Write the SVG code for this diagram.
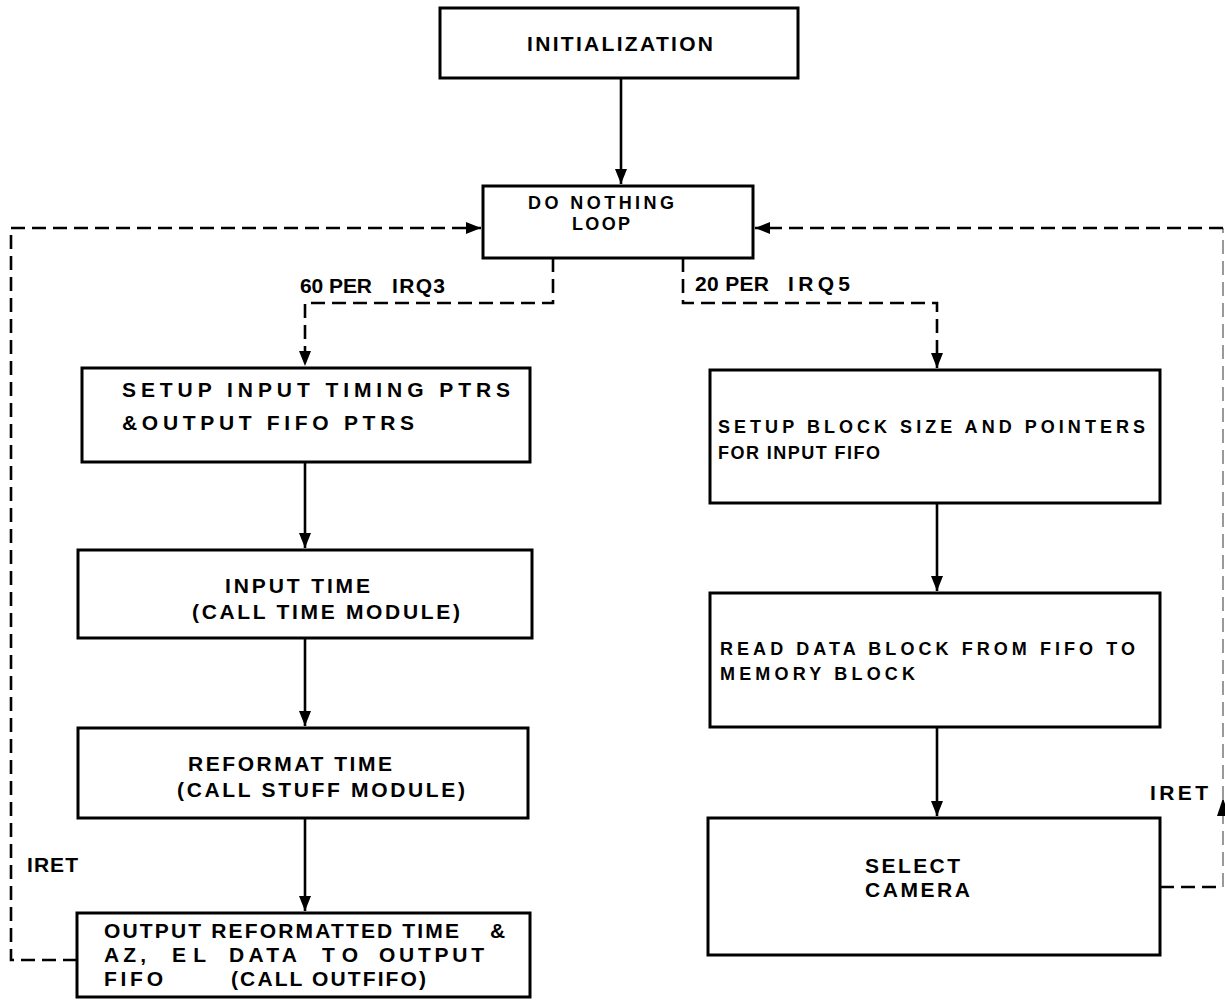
<svg xmlns="http://www.w3.org/2000/svg" width="1225" height="1001" viewBox="0 0 1225 1001">
<style>
.box{fill:#fff;stroke:#000;stroke-width:3}
.t{font-family:"Liberation Sans",Arial,sans-serif;font-weight:bold;font-size:21px;fill:#000}
.s{font-size:18px}
.ln{fill:none;stroke:#000;stroke-width:2.6}
.ds{fill:none;stroke:#000;stroke-width:2.6;stroke-dasharray:14 7}
.faint{fill:none;stroke:#999;stroke-width:2;stroke-dasharray:14 7}
</style>
<defs>
<marker id="ah" markerUnits="userSpaceOnUse" markerWidth="16" markerHeight="14" refX="15" refY="7" orient="auto">
<path d="M0,1 L15,7 L0,13 z" fill="#000"/>
</marker>
</defs>
<rect width="1225" height="1001" fill="#fff"/>
<g id="connectors">
<path class="ln" d="M621,78 V184" marker-end="url(#ah)"/>
<path class="ds" d="M553,258 V303 H305 V366" marker-end="url(#ah)"/>
<path class="ds" d="M683,258 V303 H937 V368" marker-end="url(#ah)"/>
<path class="ln" d="M305,462 V548" marker-end="url(#ah)"/>
<path class="ln" d="M305,638 V726" marker-end="url(#ah)"/>
<path class="ln" d="M305,818 V911" marker-end="url(#ah)"/>
<path class="ln" d="M937,503 V591" marker-end="url(#ah)"/>
<path class="ln" d="M937,727 V816" marker-end="url(#ah)"/>
<path class="ds" d="M77,960 H11 V228 H481" marker-end="url(#ah)"/>
<path class="ds" d="M1160,887 H1223"/>
<path class="faint" d="M1223,887 V800"/>
<path d="M1223,798 L1217,816 L1229,816 z" fill="#000"/>
<path class="faint" d="M1223,800 V228"/>
<path class="ds" d="M1223,228 H755" marker-end="url(#ah)"/>
<text class="t" x="300" y="293"><tspan x="300" textLength="72">60 PER</tspan><tspan x="392" textLength="53">IRQ3</tspan></text>
<text class="t" x="695" y="291"><tspan x="695" textLength="74">20 PER</tspan><tspan x="788" textLength="62">IRQ5</tspan></text>
<text class="t" x="27" y="872" textLength="51">IRET</text>
<text class="t" x="1150" y="800" textLength="58">IRET</text>
</g>
<g id="n-init">
<rect class="box" x="440" y="8" width="358" height="70"/>
<text class="t" x="527" y="51" textLength="186">INITIALIZATION</text>
</g>
<g id="n-loop">
<rect class="box" x="483" y="186" width="270" height="72"/>
<text class="t s" x="528" y="209" textLength="146">DO NOTHING</text>
<text class="t s" x="572" y="230" textLength="58">LOOP</text>
</g>
<g id="n-setup-input">
<rect class="box" x="82" y="368" width="448" height="94"/>
<text class="t" x="122" y="397" textLength="388">SETUP INPUT TIMING PTRS</text>
<text class="t" x="122" y="430" textLength="292">&amp;OUTPUT FIFO PTRS</text>
</g>
<g id="n-input-time">
<rect class="box" x="78" y="550" width="454" height="88"/>
<text class="t" x="225" y="593" textLength="145">INPUT TIME</text>
<text class="t" x="192" y="619" textLength="268">(CALL TIME MODULE)</text>
</g>
<g id="n-reformat">
<rect class="box" x="78" y="728" width="450" height="90"/>
<text class="t" x="188" y="771" textLength="204">REFORMAT TIME</text>
<text class="t" x="177" y="797" textLength="288">(CALL STUFF MODULE)</text>
</g>
<g id="n-output">
<rect class="box" x="77" y="913" width="453" height="84"/>
<text class="t" y="938"><tspan x="104" textLength="355">OUTPUT REFORMATTED TIME</tspan><tspan x="490" textLength="17">&amp;</tspan></text>
<text class="t" y="962"><tspan x="104" textLength="42">AZ,</tspan><tspan x="172" textLength="34">EL</tspan><tspan x="229" textLength="68">DATA</tspan><tspan x="322" textLength="36">TO</tspan><tspan x="379" textLength="105">OUTPUT</tspan></text>
<text class="t" y="986"><tspan x="104" textLength="59">FIFO</tspan><tspan x="231" textLength="195">(CALL OUTFIFO)</tspan></text>
</g>
<g id="n-setup-block">
<rect class="box" x="710" y="370" width="450" height="133"/>
<text class="t s" x="718" y="433" textLength="427">SETUP BLOCK SIZE AND POINTERS</text>
<text class="t s" x="718" y="459" textLength="162">FOR INPUT FIFO</text>
</g>
<g id="n-read-data">
<rect class="box" x="710" y="593" width="450" height="134"/>
<text class="t s" x="720" y="655" textLength="415">READ DATA BLOCK FROM FIFO TO</text>
<text class="t s" x="720" y="680" textLength="195">MEMORY BLOCK</text>
</g>
<g id="n-select-camera">
<rect class="box" x="708" y="818" width="452" height="137"/>
<text class="t" x="865" y="873" textLength="95">SELECT</text>
<text class="t" x="865" y="897" textLength="105">CAMERA</text>
</g>
</svg>
